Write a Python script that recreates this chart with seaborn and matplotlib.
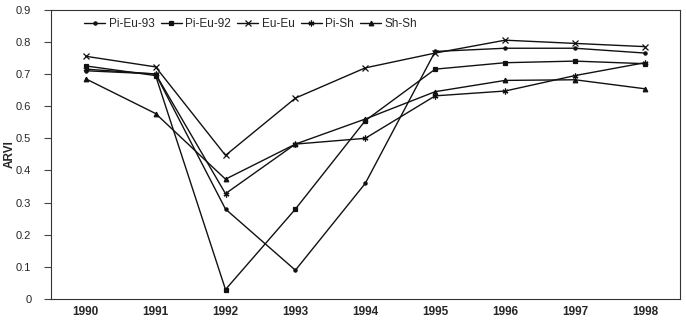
import pandas as pd
import matplotlib.pyplot as plt
import seaborn as sns

years = [1990, 1991, 1992, 1993, 1994, 1995, 1996, 1997, 1998]
pi_eu_93 = [0.71, 0.70, 0.28, 0.09, 0.36, 0.77, 0.78, 0.78, 0.765]
pi_eu_92 = [0.725, 0.695, 0.03, 0.28, 0.555, 0.715, 0.735, 0.74, 0.732]
eu_eu = [0.755, 0.722, 0.447, 0.625, 0.719, 0.765, 0.805, 0.795, 0.785]
pi_sh = [0.715, 0.70, 0.328, 0.482, 0.50, 0.632, 0.647, 0.695, 0.735]
sh_sh = [0.685, 0.577, 0.373, 0.482, 0.56, 0.645, 0.68, 0.682, 0.654]
names = ['Pi-Eu-93', 'Pi-Eu-92', 'Eu-Eu', 'Pi-Sh', 'Sh-Sh']

df = pd.DataFrame({'year': years, 'Pi-Eu-93': pi_eu_93, 'Pi-Eu-92': pi_eu_92,
                   'Eu-Eu': eu_eu, 'Pi-Sh': pi_sh, 'Sh-Sh': sh_sh})
df = df.melt(id_vars='year', var_name='series', value_name='ARVI')

sns.set_style('white')
plt.rcParams['font.family'] = ['Liberation Sans', 'DejaVu Sans']

fig = plt.figure(figsize=(6.86, 3.21), dpi=100)
ax = fig.add_axes([0.074, 0.068, 0.917, 0.902])

markers = {'Pi-Eu-93': 'o', 'Pi-Eu-92': 's', 'Eu-Eu': 'x', 'Pi-Sh': (6, 2, 0), 'Sh-Sh': '^'}
sizes = {'Pi-Eu-93': 2.3, 'Pi-Eu-92': 3.3, 'Eu-Eu': 3.8, 'Pi-Sh': 4.2, 'Sh-Sh': 3.3}
for n in names:
    sub = df[df.series == n]
    sns.lineplot(data=sub, x='year', y='ARVI', ax=ax, color='#111', lw=1,
                 marker=markers[n], markersize=sizes[n], markeredgewidth=0.9,
                 markeredgecolor='#111', label=n)

ax.set_xlim(1989.5, 1998.5)
ax.set_ylim(0, 0.9)
ax.set_xticks(years)
ax.set_xticklabels([str(y) for y in years], fontsize=8.5, fontweight='bold')
ax.set_xticks([y + 0.5 for y in years[:-1]], minor=True)
ax.set_yticks([i / 10 for i in range(10)])
ax.set_yticklabels(['0'] + [f'0.{i}' for i in range(1, 10)], fontsize=8)
ax.tick_params(axis='x', which='major', length=0, pad=5)
ax.tick_params(axis='x', which='minor', length=3, direction='in', color='#444')
ax.tick_params(axis='y', length=5, direction='out', left=True, color='#444', pad=9)
ax.set_xlabel('')
ax.set_ylabel('ARVI', fontsize=8.5, fontweight='bold')
ax.yaxis.set_label_coords(-0.056, 0.5)
for s in ax.spines.values():
    s.set_color('#333')
    s.set_linewidth(0.8)

ax.legend(loc='upper left', bbox_to_anchor=(0.04, 1.0), ncol=5, frameon=False,
          fontsize=8.5, handlelength=1.8, handletextpad=0.3, columnspacing=0.5,
          borderaxespad=0.3)

fig.savefig('out.png', dpi=100)
